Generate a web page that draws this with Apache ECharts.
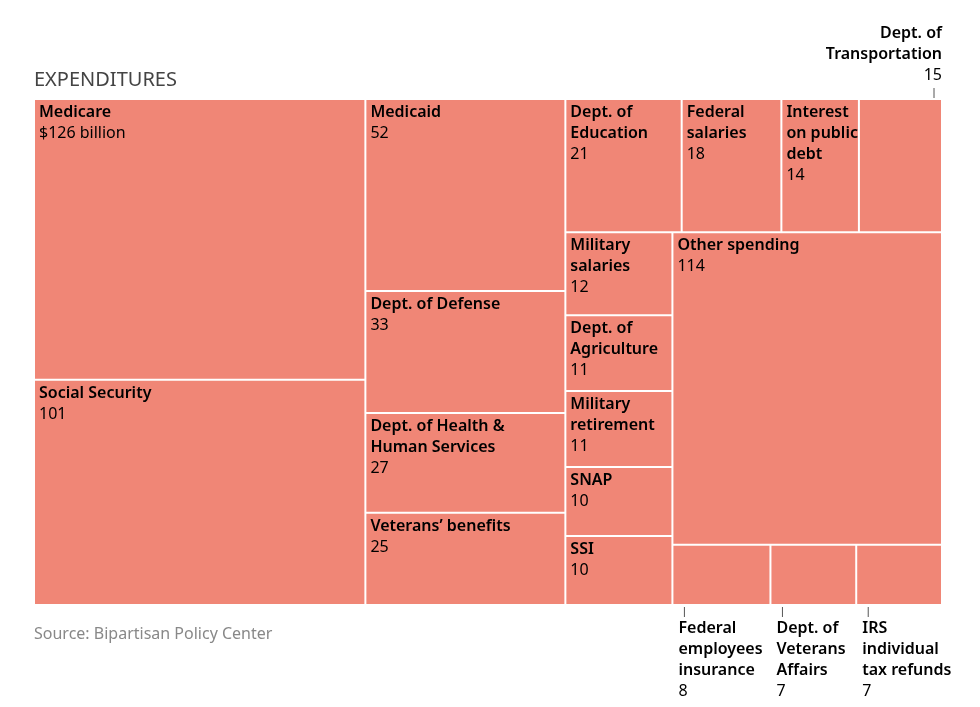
<!DOCTYPE html>
<html>
<head>
<meta charset="utf-8">
<script src="https://cdn.jsdelivr.net/npm/echarts@6/dist/echarts.min.js"></script>
<style>
  html, body { margin: 0; padding: 0; background: #fff; }
  #chart { width: 980px; height: 707px; }
</style>
</head>
<body>
<div id="chart"></div>
<script>
var FONT = '"Noto Sans"';
var FILL = '#f08676';

// categories and values (billions of dollars)
var names = [
    'Medicare', 'Social Security', 'Medicaid', 'Dept. of Defense',
    'Dept. of Health &\nHuman Services', 'Veterans\u2019 benefits',
    'Dept. of\nEducation', 'Federal\nsalaries', 'Interest\non public\ndebt',
    'Dept. of\nTransportation', 'Military\nsalaries', 'Dept. of\nAgriculture',
    'Military\nretirement', 'SNAP', 'SSI', 'Other spending',
    'Federal\nemployees\ninsurance', 'Dept. of\nVeterans\nAffairs', 'IRS\nindividual\ntax refunds'
];
var values = [126, 101, 52, 33, 27, 25, 21, 18, 14, 15, 12, 11, 11, 10, 10, 114, 8, 7, 7];
var valueLabels = ['$126 billion', '101', '52', '33', '27', '25', '21', '18', '14', '15',
    '12', '11', '11', '10', '10', '114', '8', '7', '7'];
// where the label goes: inside the box, above it, or below it
var labelPlaces = ['in', 'in', 'in', 'in', 'in', 'in', 'in', 'in', 'in', 'top',
    'in', 'in', 'in', 'in', 'in', 'in', 'bottom', 'bottom', 'bottom'];
// nesting of the boxes (indices into names); levels split alternately across and down
var groups = [[0, 1], [2, 3, 4, 5], [[6, 7, 8, 9], [[10, 11, 12, 13, 14], [15, [16, 17, 18]]]]];

function total(node) {
    if (typeof node === 'number') return values[node];
    var s = 0;
    node.forEach(function (c) { s += total(c); });
    return s;
}

// slice-and-dice layout in the unit square
var rects = [];
function layout(node, x0, y0, x1, y1, across) {
    if (typeof node === 'number') {
        rects.push([x0, y0, x1, y1, node]);
        return;
    }
    var sum = total(node);
    var pos = across ? x0 : y0;
    node.forEach(function (c) {
        var len = (across ? (x1 - x0) : (y1 - y0)) * total(c) / sum;
        if (across) layout(c, pos, y0, pos + len, y1, !across);
        else layout(c, x0, pos, x1, pos + len, !across);
        pos += len;
    });
}
layout(groups, 0, 0, 1, 1, true);

function richText(i) {
    return names[i].split('\n').map(function (l) { return '{n|' + l + '}'; }).join('\n') +
        '\n{v|' + valueLabels[i] + '}';
}

var rich = {
    n: { fontFamily: FONT, fontSize: 16, fontWeight: 600, color: '#1a1a1a', lineHeight: 21 },
    v: { fontFamily: FONT, fontSize: 16, color: '#1a1a1a', lineHeight: 21 }
};

function renderItem(params, api) {
    var p0 = api.coord([api.value(0), api.value(1)]);
    var p1 = api.coord([api.value(2), api.value(3)]);
    var i = api.value(4);
    var children = [{
        type: 'rect',
        shape: { x: p0[0] + 1, y: p0[1] + 1, width: p1[0] - p0[0] - 2, height: p1[1] - p0[1] - 2 },
        style: { fill: FILL }
    }];
    var place = labelPlaces[i];
    if (place === 'in') {
        children.push({
            type: 'text',
            x: p0[0] + 5, y: p0[1] + 3,
            style: { text: richText(i), rich: rich, align: 'left', verticalAlign: 'top' }
        });
    } else if (place === 'top') {
        children.push({
            type: 'line',
            shape: { x1: p1[0] - 8, y1: p0[1] - 11, x2: p1[0] - 8, y2: p0[1] - 1 },
            style: { stroke: '#555', lineWidth: 1 }
        });
        children.push({
            type: 'text',
            x: p1[0], y: p0[1] - 13,
            style: { text: richText(i), rich: rich, align: 'right', verticalAlign: 'bottom' }
        });
    } else {
        children.push({
            type: 'line',
            shape: { x1: p0[0] + 12, y1: p1[1] + 2, x2: p0[0] + 12, y2: p1[1] + 12 },
            style: { stroke: '#555', lineWidth: 1 }
        });
        children.push({
            type: 'text',
            x: p0[0] + 6, y: p1[1] + 13,
            style: { text: richText(i), rich: rich, align: 'left', verticalAlign: 'top' }
        });
    }
    return { type: 'group', children: children };
}

var myChart = echarts.init(document.getElementById('chart'));
var option = {
    animation: false,
    grid: { left: 34, top: 99, width: 908, height: 506 },
    xAxis: { type: 'value', min: 0, max: 1, show: false },
    yAxis: { type: 'value', min: 0, max: 1, inverse: true, show: false },
    graphic: [
        {
            type: 'text', left: 34, top: 70,
            style: { text: 'EXPENDITURES', fontFamily: FONT, fontSize: 20, fill: '#444' }
        },
        {
            type: 'text', left: 34, top: 626,
            style: { text: 'Source: Bipartisan Policy Center', fontFamily: FONT, fontSize: 16, fill: '#888' }
        }
    ],
    series: [{
        type: 'custom',
        renderItem: renderItem,
        encode: { x: [0, 2], y: [1, 3] },
        data: rects
    }]
};
myChart.setOption(option);
</script>
</body>
</html>
